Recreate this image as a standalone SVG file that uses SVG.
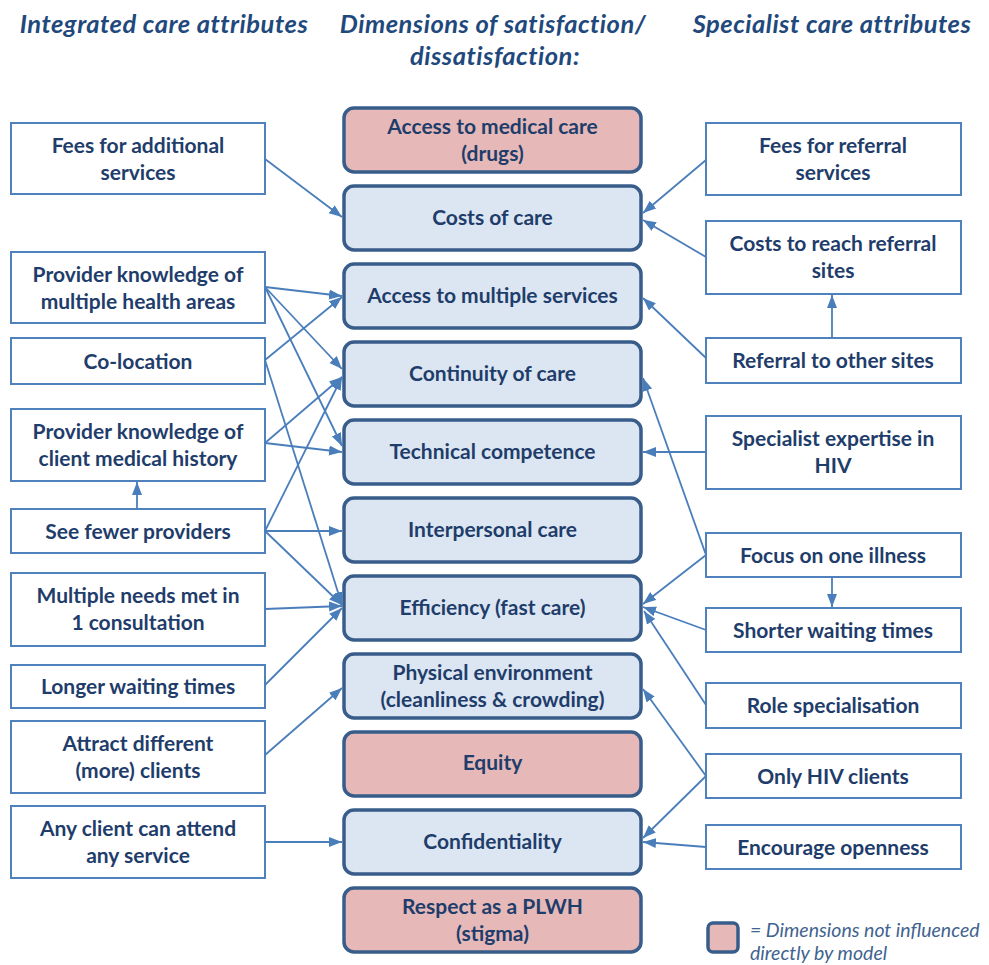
<svg xmlns="http://www.w3.org/2000/svg" width="989" height="965" viewBox="0 0 989 965">
  <defs>
    <marker id="arrow" markerUnits="userSpaceOnUse" markerWidth="14" markerHeight="12" refX="13" refY="5" orient="auto">
      <path d="M0,0 L13,5 L0,10 z" fill="#4a7ebb"/>
    </marker>
  </defs>
  <style>
    .hdr { font-family: Lato, "Open Sans", sans-serif; font-style: italic; font-weight: 700; font-size: 25.5px; letter-spacing: 0.5px; fill: #1f497d; text-anchor: middle; }
    .attr rect { fill: #ffffff; stroke: #4f81bd; stroke-width: 2; }
    .dim rect { fill: #dce6f2; stroke: #385d8a; stroke-width: 3.5; }
    .dim.off rect { fill: #e6b9b8; }
    .lbl { font-family: Lato, "Open Sans", sans-serif; font-weight: 700; font-size: 21px; fill: #1f3d6b; text-anchor: middle; }
    .conn path { fill: none; stroke: #4a7ebb; stroke-width: 1.8; marker-end: url(#arrow); }
    .legend-text { font-family: Lato, "Open Sans", sans-serif; font-style: italic; font-size: 19.5px; fill: #41638f; }
  </style>

  <rect x="0" y="0" width="989" height="965" fill="#ffffff"/>

  <!-- column headings -->
  <text class="hdr" x="164" y="33">Integrated care attributes</text>
  <text class="hdr" x="493" y="33">Dimensions of satisfaction/</text>
  <text class="hdr" x="495" y="65">dissatisfaction:</text>
  <text class="hdr" x="832" y="33">Specialist care attributes</text>

  <!-- dimensions of satisfaction -->
  <g id="dim-access-medical" class="dim off"><rect x="344" y="108" width="297" height="64" rx="10"/>
    <text class="lbl" x="492.5" y="134">Access to medical care</text><text class="lbl" x="492.5" y="161">(drugs)</text></g>
  <g id="dim-costs" class="dim"><rect x="344" y="186" width="297" height="64" rx="10"/>
    <text class="lbl" x="492.5" y="225">Costs of care</text></g>
  <g id="dim-access-multiple" class="dim"><rect x="344" y="264" width="297" height="64" rx="10"/>
    <text class="lbl" x="492.5" y="303">Access to multiple services</text></g>
  <g id="dim-continuity" class="dim"><rect x="344" y="342" width="297" height="64" rx="10"/>
    <text class="lbl" x="492.5" y="381">Continuity of care</text></g>
  <g id="dim-technical" class="dim"><rect x="344" y="420" width="297" height="64" rx="10"/>
    <text class="lbl" x="492.5" y="459">Technical competence</text></g>
  <g id="dim-interpersonal" class="dim"><rect x="344" y="498" width="297" height="64" rx="10"/>
    <text class="lbl" x="492.5" y="537">Interpersonal care</text></g>
  <g id="dim-efficiency" class="dim"><rect x="344" y="576" width="297" height="64" rx="10"/>
    <text class="lbl" x="492.5" y="615">Efficiency (fast care)</text></g>
  <g id="dim-physical" class="dim"><rect x="344" y="654" width="297" height="64" rx="10"/>
    <text class="lbl" x="492.5" y="680">Physical environment</text><text class="lbl" x="492.5" y="707">(cleanliness &amp; crowding)</text></g>
  <g id="dim-equity" class="dim off"><rect x="344" y="732" width="297" height="64" rx="10"/>
    <text class="lbl" x="492.5" y="770">Equity</text></g>
  <g id="dim-confidentiality" class="dim"><rect x="344" y="810" width="297" height="64" rx="10"/>
    <text class="lbl" x="492.5" y="849">Confidentiality</text></g>
  <g id="dim-respect" class="dim off"><rect x="344" y="888" width="297" height="64" rx="10"/>
    <text class="lbl" x="492.5" y="914">Respect as a PLWH</text><text class="lbl" x="492.5" y="941">(stigma)</text></g>

  <!-- integrated care attributes -->
  <g id="int-fees" class="attr"><rect x="11" y="123" width="254" height="71"/>
    <text class="lbl" x="138" y="153">Fees for additional</text><text class="lbl" x="138" y="180">services</text></g>
  <g id="int-pk-multiple" class="attr"><rect x="11" y="252" width="254" height="71"/>
    <text class="lbl" x="138" y="282">Provider knowledge of</text><text class="lbl" x="138" y="309">multiple health areas</text></g>
  <g id="int-colocation" class="attr"><rect x="11" y="338" width="254" height="46"/>
    <text class="lbl" x="138" y="369">Co-location</text></g>
  <g id="int-pk-history" class="attr"><rect x="11" y="409" width="254" height="72"/>
    <text class="lbl" x="138" y="439">Provider knowledge of</text><text class="lbl" x="138" y="466">client medical history</text></g>
  <g id="int-fewer" class="attr"><rect x="11" y="509" width="254" height="44"/>
    <text class="lbl" x="138" y="539">See fewer providers</text></g>
  <g id="int-multiple-needs" class="attr"><rect x="11" y="573" width="254" height="73"/>
    <text class="lbl" x="138" y="603">Multiple needs met in</text><text class="lbl" x="138" y="630">1 consultation</text></g>
  <g id="int-longer" class="attr"><rect x="11" y="665" width="254" height="43"/>
    <text class="lbl" x="138" y="694">Longer waiting times</text></g>
  <g id="int-attract" class="attr"><rect x="11" y="721" width="254" height="72"/>
    <text class="lbl" x="138" y="751">Attract different</text><text class="lbl" x="138" y="778">(more) clients</text></g>
  <g id="int-any-client" class="attr"><rect x="11" y="806" width="254" height="72"/>
    <text class="lbl" x="138" y="836">Any client can attend</text><text class="lbl" x="138" y="863">any service</text></g>

  <!-- specialist care attributes -->
  <g id="spec-fees" class="attr"><rect x="706" y="123" width="255" height="72"/>
    <text class="lbl" x="833" y="153">Fees for referral</text><text class="lbl" x="833" y="180">services</text></g>
  <g id="spec-costs-reach" class="attr"><rect x="706" y="221" width="255" height="73"/>
    <text class="lbl" x="833" y="251">Costs to reach referral</text><text class="lbl" x="833" y="278">sites</text></g>
  <g id="spec-referral" class="attr"><rect x="706" y="338" width="255" height="45"/>
    <text class="lbl" x="833" y="368">Referral to other sites</text></g>
  <g id="spec-expertise" class="attr"><rect x="706" y="416" width="255" height="73"/>
    <text class="lbl" x="833" y="446">Specialist expertise in</text><text class="lbl" x="833" y="473">HIV</text></g>
  <g id="spec-focus" class="attr"><rect x="706" y="533" width="255" height="44"/>
    <text class="lbl" x="833" y="563">Focus on one illness</text></g>
  <g id="spec-shorter" class="attr"><rect x="706" y="608" width="255" height="44"/>
    <text class="lbl" x="833" y="638">Shorter waiting times</text></g>
  <g id="spec-role" class="attr"><rect x="706" y="683" width="255" height="45"/>
    <text class="lbl" x="833" y="713">Role specialisation</text></g>
  <g id="spec-only-hiv" class="attr"><rect x="706" y="754" width="255" height="44"/>
    <text class="lbl" x="833" y="784">Only HIV clients</text></g>
  <g id="spec-openness" class="attr"><rect x="706" y="825" width="255" height="44"/>
    <text class="lbl" x="833" y="855">Encourage openness</text></g>

  <!-- connectors -->
  <g id="connectors" class="conn">
    <path d="M265,159 L342,217"/>
    <path d="M265,287 L342,296"/>
    <path d="M265,287 L342,369"/>
    <path d="M265,287 L342,446"/>
    <path d="M265,360 L342,297"/>
    <path d="M265,360 L342,605"/>
    <path d="M265,443 L342,377"/>
    <path d="M265,443 L342,452"/>
    <path d="M265,531 L342,377"/>
    <path d="M265,531 L342,531"/>
    <path d="M265,531 L342,605"/>
    <path d="M137,509 L137,482"/>
    <path d="M265,609 L342,606"/>
    <path d="M265,685 L342,608"/>
    <path d="M265,755 L342,688"/>
    <path d="M265,842 L342,842"/>

    <path d="M706,160 L643,213"/>
    <path d="M706,257 L643,220"/>
    <path d="M706,358 L643,298"/>
    <path d="M832,338 L832,295"/>
    <path d="M706,555 L643,378"/>
    <path d="M706,452 L643,452"/>
    <path d="M706,555 L643,604"/>
    <path d="M706,630 L643,607"/>
    <path d="M706,705 L644,611"/>
    <path d="M832,577 L832,607"/>
    <path d="M706,776 L643,689"/>
    <path d="M706,776 L643,838"/>
    <path d="M706,847 L643,842"/>
  </g>

  <!-- legend -->
  <g id="legend">
    <rect x="708" y="923" width="30" height="29" rx="5" fill="#e6b9b8" stroke="#385d8a" stroke-width="3.5"/>
    <text class="legend-text" x="750" y="937">= Dimensions not influenced</text>
    <text class="legend-text" x="750" y="960">directly by model</text>
  </g>
</svg>
